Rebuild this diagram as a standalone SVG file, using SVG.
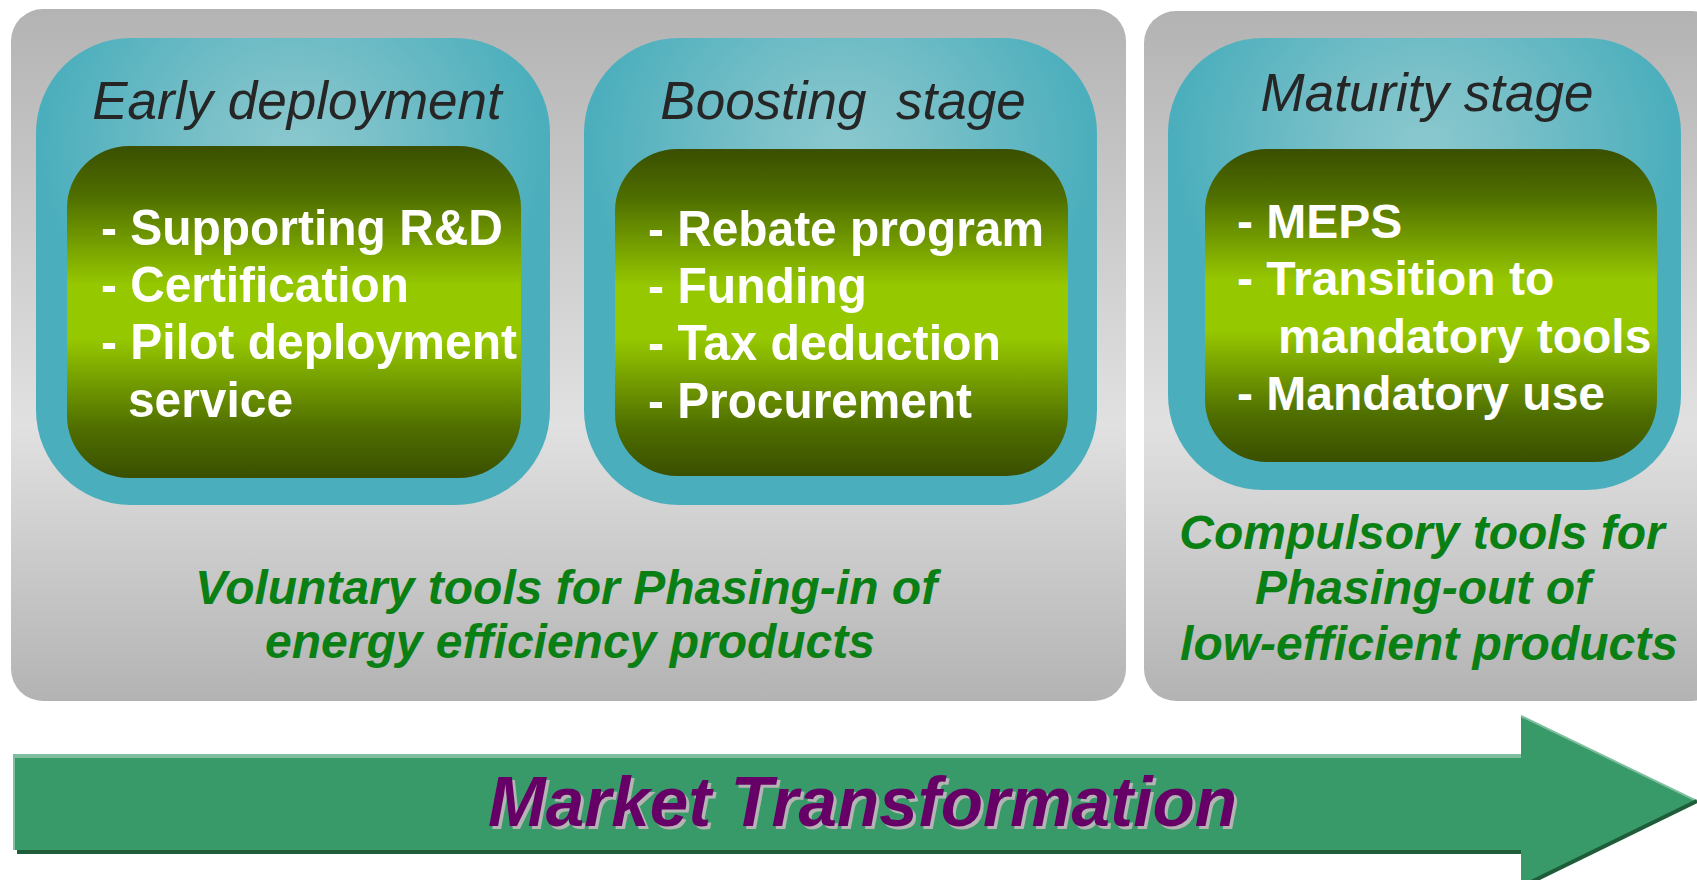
<svg xmlns="http://www.w3.org/2000/svg" width="1697" height="880" viewBox="0 0 1697 880">
  <defs>
    <linearGradient id="greyGrad" x1="0" y1="0" x2="0" y2="1">
      <stop offset="0" stop-color="#b3b3b3"/>
      <stop offset="0.6" stop-color="#e1e1e1"/>
      <stop offset="1" stop-color="#b3b3b3"/>
    </linearGradient>
    <radialGradient id="tealGrad" cx="0.5" cy="0.24" r="0.5" fx="0.5" fy="0.24">
      <stop offset="0" stop-color="#8ac8ce"/>
      <stop offset="0.3" stop-color="#7cc1c9"/>
      <stop offset="1" stop-color="#4aaebc"/>
    </radialGradient>
    <linearGradient id="greenGrad" x1="0" y1="0" x2="0" y2="1">
      <stop offset="0" stop-color="#3a4f00"/>
      <stop offset="0.15" stop-color="#4f6e00"/>
      <stop offset="0.42" stop-color="#96c800"/>
      <stop offset="0.58" stop-color="#96c800"/>
      <stop offset="0.85" stop-color="#4f6e00"/>
      <stop offset="1" stop-color="#3a4f00"/>
    </linearGradient>
    <style>
      .panel { fill: url(#greyGrad); }
      .teal { fill: url(#tealGrad); }
      .green { fill: url(#greenGrad); }
      .title { font-family: "Liberation Sans", Arial, sans-serif; font-style: italic; font-size: 53px; fill: #262626; text-anchor: middle; }
      .item { font-family: "Liberation Sans", Arial, sans-serif; font-weight: bold; font-size: 48px; fill: #ffffff; }
      .item50 { font-size: 50px; }
      .note { font-family: "Liberation Sans", Arial, sans-serif; font-weight: bold; font-style: italic; font-size: 48px; fill: #0a7f14; text-anchor: middle; }
      .market { font-family: "Liberation Sans", Arial, sans-serif; font-weight: bold; font-style: italic; font-size: 70px; }
    </style>
  </defs>

  <rect x="0" y="0" width="1697" height="880" fill="#ffffff"/>

  <g id="panel-voluntary">
    <rect class="panel" x="11" y="9" width="1115" height="692" rx="32" ry="32"/>
    <text class="note" x="566" y="604">Voluntary tools for Phasing-in of</text>
    <text class="note" x="570" y="658">energy efficiency products</text>
  </g>

  <g id="panel-compulsory">
    <rect class="panel" x="1144" y="11" width="580" height="690" rx="32" ry="32"/>
    <text class="note" x="1422" y="549">Compulsory tools for</text>
    <text class="note" x="1423" y="604">Phasing-out of</text>
    <text class="note" x="1429" y="660">low-efficient products</text>
  </g>

  <g id="stage-early">
    <rect class="teal" x="36" y="38" width="514" height="467" rx="95" ry="95"/>
    <text class="title" x="297" y="119">Early deployment</text>
    <rect class="green" x="67" y="146" width="454" height="332" rx="62" ry="62"/>
    <text class="item item50" x="101" y="245" textLength="402" lengthAdjust="spacingAndGlyphs">- Supporting R&amp;D</text>
    <text class="item item50" x="101" y="302" textLength="308" lengthAdjust="spacingAndGlyphs">- Certification</text>
    <text class="item item50" x="101" y="359" textLength="416" lengthAdjust="spacingAndGlyphs">- Pilot deployment</text>
    <text class="item item50" x="128" y="417" textLength="165" lengthAdjust="spacingAndGlyphs">service</text>
  </g>

  <g id="stage-boosting">
    <rect class="teal" x="584" y="38" width="513" height="467" rx="95" ry="95"/>
    <text class="title" x="843" y="119" xml:space="preserve">Boosting  stage</text>
    <rect class="green" x="615" y="149" width="453" height="327" rx="62" ry="62"/>
    <text class="item item50" x="648" y="246" textLength="396" lengthAdjust="spacingAndGlyphs">- Rebate program</text>
    <text class="item item50" x="648" y="303" textLength="219" lengthAdjust="spacingAndGlyphs">- Funding</text>
    <text class="item item50" x="648" y="360" textLength="353" lengthAdjust="spacingAndGlyphs">- Tax deduction</text>
    <text class="item item50" x="648" y="418" textLength="324" lengthAdjust="spacingAndGlyphs">- Procurement</text>
  </g>

  <g id="stage-maturity">
    <rect class="teal" x="1168" y="38" width="513" height="452" rx="95" ry="95"/>
    <text class="title" x="1427" y="111">Maturity stage</text>
    <rect class="green" x="1205" y="149" width="452" height="313" rx="62" ry="62"/>
    <text class="item" x="1237" y="238">- MEPS</text>
    <text class="item" x="1237" y="295">- Transition to</text>
    <text class="item" x="1278" y="353">mandatory tools</text>
    <text class="item" x="1237" y="410">- Mandatory use</text>
  </g>

  <g id="connectors">
    <g id="arrow-market">
      <rect x="17" y="756" width="1506" height="98" fill="#1e5c3a"/>
      <rect x="13" y="754" width="1508" height="96" fill="#389a68"/>
      <rect x="13" y="754" width="1508" height="4" fill="#7fbf9f"/>
      <rect x="13" y="754" width="2" height="96" fill="#7fbf9f"/>
      <polygon points="1521,716 1697,801 1521,886" fill="#389a68"/>
      <line x1="1521" y1="716" x2="1697" y2="801" stroke="#7fbf9f" stroke-width="2"/>
      <line x1="1697" y1="801" x2="1523" y2="886" stroke="#1e5c3a" stroke-width="4"/>
      <text class="market" x="491" y="829" fill="#b4b4b4" textLength="749" lengthAdjust="spacingAndGlyphs">Market Transformation</text>
      <text class="market" x="488" y="826" fill="#660066" textLength="749" lengthAdjust="spacingAndGlyphs">Market Transformation</text>
    </g>
  </g>
</svg>
